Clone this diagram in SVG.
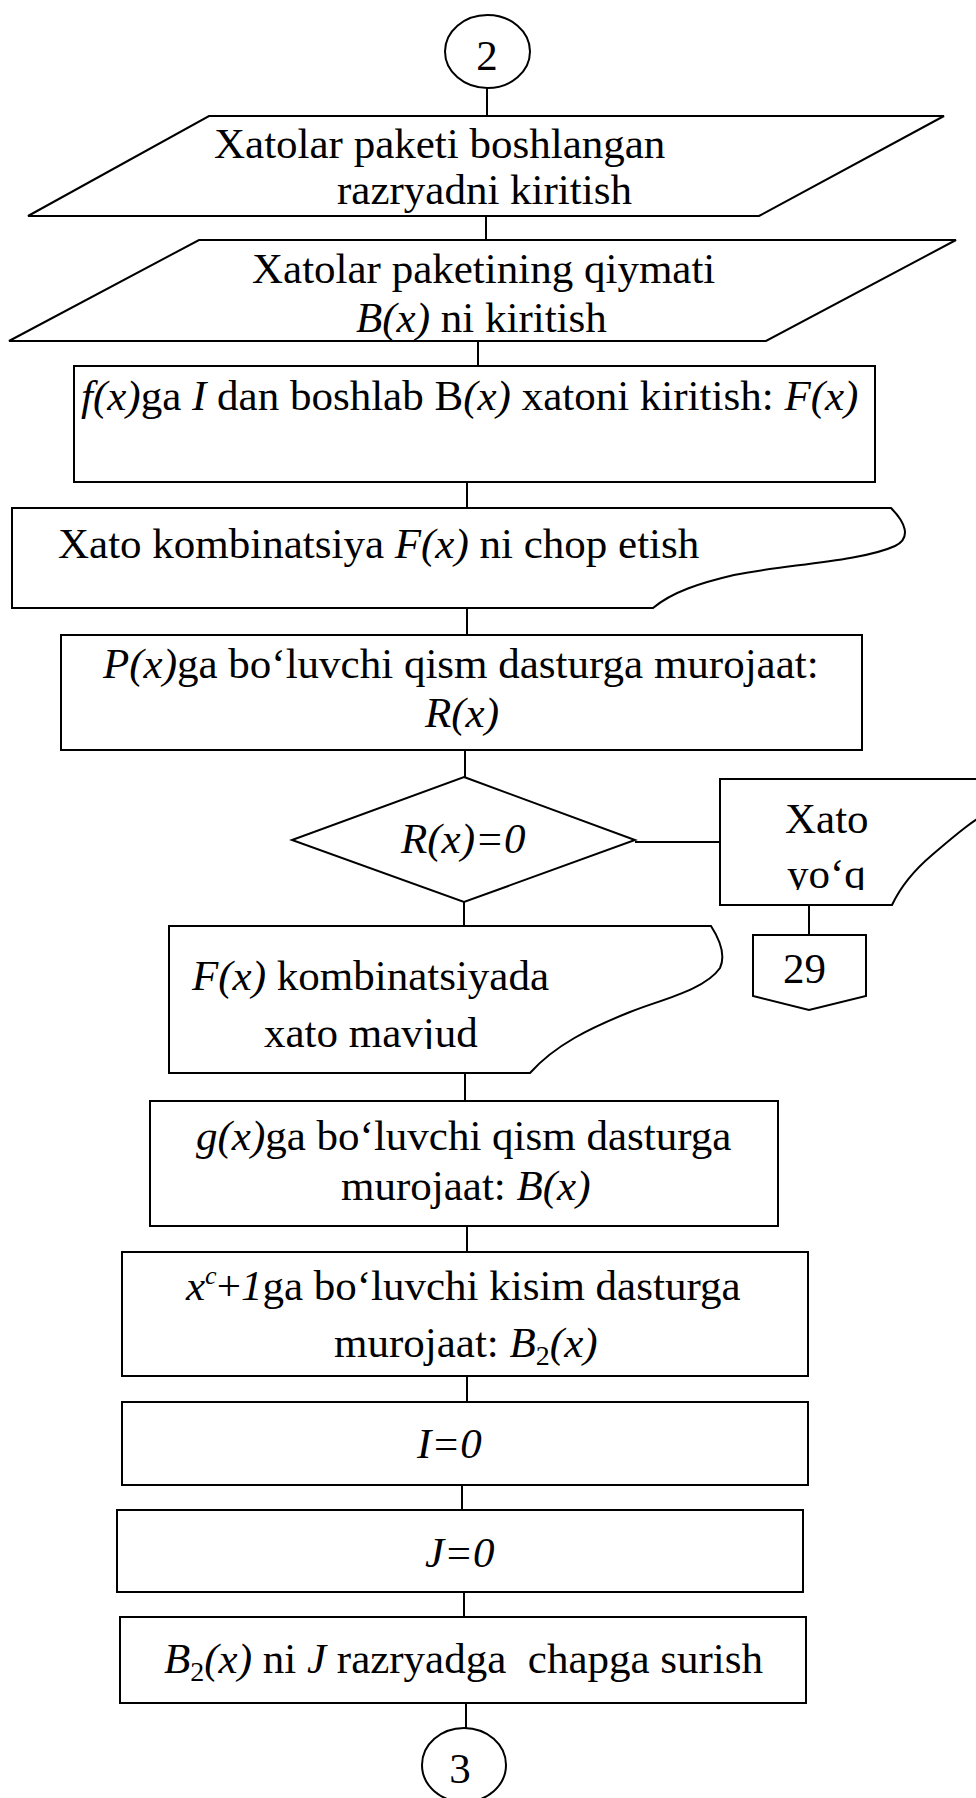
<svg xmlns="http://www.w3.org/2000/svg" width="976" height="1798" viewBox="0 0 976 1798">
<style>
.s{fill:#fff;stroke:#000;stroke-width:2}
.c line{stroke:#000;stroke-width:2}
text{font-family:"Liberation Serif","Times New Roman",serif;font-size:43px;fill:#000}
.i{font-style:italic}
.pre{white-space:pre}
</style>
<defs>
<clipPath id="clipYoq"><rect x="700" y="760" width="276" height="130"/></clipPath>
<clipPath id="clipMavjud"><rect x="150" y="1000" width="500" height="49"/></clipPath>
</defs>
<rect x="0" y="0" width="976" height="1798" fill="#fff"/>
<g class="c" id="connectors">
<line x1="487" y1="88" x2="487" y2="116"/>
<line x1="486" y1="216" x2="486" y2="240"/>
<line x1="478" y1="341" x2="478" y2="366"/>
<line x1="467" y1="482" x2="467" y2="508"/>
<line x1="467" y1="608" x2="467" y2="635"/>
<line x1="465" y1="750" x2="465" y2="777"/>
<line x1="635" y1="842" x2="720" y2="842"/>
<line x1="464" y1="902" x2="464" y2="926"/>
<line x1="809" y1="905" x2="809" y2="935"/>
<line x1="465" y1="1073" x2="465" y2="1101"/>
<line x1="467" y1="1226" x2="467" y2="1252"/>
<line x1="467" y1="1376" x2="467" y2="1402"/>
<line x1="462" y1="1485" x2="462" y2="1510"/>
<line x1="464" y1="1592" x2="464" y2="1617"/>
<line x1="466" y1="1703" x2="466" y2="1728"/>
</g>
<g id="n_start">
<ellipse class="s" cx="487.5" cy="51.5" rx="42.5" ry="36.5"/>
<text x="487" y="70" text-anchor="middle">2</text>
</g>
<g id="n_input1">
<polygon class="s" points="209,116 944,116 759,216 28,216"/>
<text x="214" y="158">Xatolar paketi boshlangan</text>
<text x="337" y="204">razryadni kiritish</text>
</g>
<g id="n_input2">
<polygon class="s" points="199,240 956,240 766,341 9,341"/>
<text x="252" y="283">Xatolar paketining qiymati</text>
<text x="356" y="332"><tspan class="i">B(x)</tspan> ni kiritish</text>
</g>
<g id="n_insert">
<rect class="s" x="74" y="366" width="801" height="116"/>
<text x="81" y="410"><tspan class="i">f(x)</tspan>ga <tspan class="i">I</tspan> dan boshlab B<tspan class="i">(x)</tspan> xatoni kiritish: <tspan class="i">F(x)</tspan></text>
</g>
<g id="n_print">
<path class="s" d="M12,508 H891 C905,522 912,538 895,546 C860,562 780,565 734,575 C700,583 672,592 653,608 H12 Z"/>
<text x="58" y="558">Xato kombinatsiya <tspan class="i">F(x)</tspan> ni chop etish</text>
</g>
<g id="n_callP">
<rect class="s" x="61" y="635" width="801" height="115"/>
<text x="103" y="678"><tspan class="i">P(x)</tspan>ga bo‘luvchi qism dasturga murojaat:</text>
<text x="425" y="727" class="i">R(x)</text>
</g>
<g id="n_decision">
<polygon class="s" points="464,777 635,840 464,902 292,840"/>
<text x="401" y="853" class="i">R(x)=0</text>
</g>
<g id="n_noerror">
<path class="s" d="M720,779 H990 V812 C975,818 952,838 932,855 C912,872 900,888 892,905 H720 Z"/>
<text x="785" y="833">Xato</text>
<text x="787" y="888" clip-path="url(#clipYoq)">yo‘q</text>
</g>
<g id="n_off29">
<polygon class="s" points="753,935 866,935 866,996 809,1010 753,996"/>
<text x="783" y="983">29</text>
</g>
<g id="n_errorexists">
<path class="s" d="M169,926 H711 C720,940 726,955 720,968 C705,990 660,1000 630,1012 C590,1028 555,1045 530,1073 H169 Z"/>
<text x="192" y="990"><tspan class="i">F(x)</tspan> kombinatsiyada</text>
<text x="264" y="1047" clip-path="url(#clipMavjud)">xato mavjud</text>
</g>
<g id="n_callG">
<rect class="s" x="150" y="1101" width="628" height="125"/>
<text x="196" y="1150"><tspan class="i">g(x)</tspan>ga bo‘luvchi qism dasturga</text>
<text x="341" y="1200">murojaat: <tspan class="i">B(x)</tspan></text>
</g>
<g id="n_callX">
<rect class="s" x="122" y="1252" width="686" height="124"/>
<text x="186" y="1300"><tspan class="i">x</tspan><tspan class="i" font-size="26" dy="-16">c</tspan><tspan dy="16">+</tspan><tspan class="i">1</tspan>ga bo‘luvchi kisim dasturga</text>
<text x="334" y="1357">murojaat: <tspan class="i">B</tspan><tspan font-size="28" dy="8">2</tspan><tspan class="i" dy="-8">(x)</tspan></text>
</g>
<g id="n_I0">
<rect class="s" x="122" y="1402" width="686" height="83"/>
<text x="417" y="1458" class="i">I=0</text>
</g>
<g id="n_J0">
<rect class="s" x="117" y="1510" width="686" height="82"/>
<text x="425" y="1567" class="i">J=0</text>
</g>
<g id="n_shift">
<rect class="s" x="120" y="1617" width="686" height="86"/>
<text x="164" y="1673" class="pre"><tspan class="i">B</tspan><tspan font-size="28" dy="8">2</tspan><tspan class="i" dy="-8">(x)</tspan> ni <tspan class="i">J</tspan> razryadga  chapga surish</text>
</g>
<g id="n_end">
<ellipse class="s" cx="464" cy="1765" rx="42" ry="37"/>
<text x="460" y="1783" text-anchor="middle">3</text>
</g>
</svg>
